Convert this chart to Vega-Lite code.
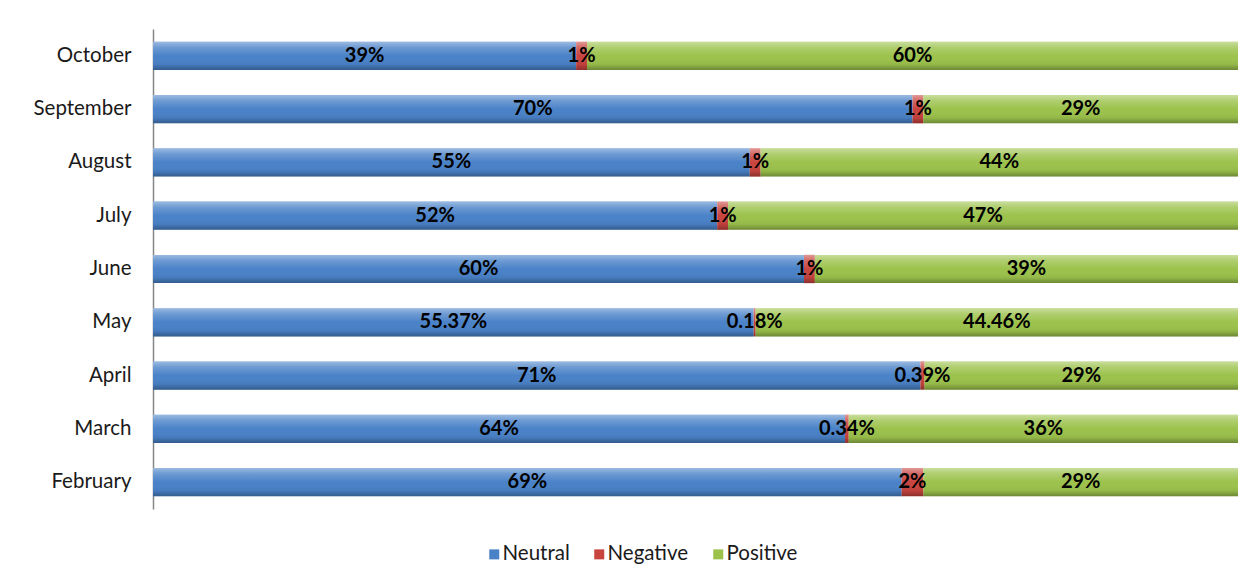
{
  "$schema": "https://vega.github.io/schema/vega-lite/v6.json",
  "autosize": "none",
  "width": 1085,
  "height": 480,
  "padding": {"left": 153, "top": 29, "right": 10, "bottom": 74},
  "background": "white",
  "data": {
    "values": [
      {"month": "February", "sentiment": "Neutral", "order": 1, "share": 0.69},
      {"month": "February", "sentiment": "Negative", "order": 2, "share": 0.02},
      {"month": "February", "sentiment": "Positive", "order": 3, "share": 0.29},
      {"month": "March", "sentiment": "Neutral", "order": 1, "share": 0.64},
      {"month": "March", "sentiment": "Negative", "order": 2, "share": 0.0034},
      {"month": "March", "sentiment": "Positive", "order": 3, "share": 0.36},
      {"month": "April", "sentiment": "Neutral", "order": 1, "share": 0.71},
      {"month": "April", "sentiment": "Negative", "order": 2, "share": 0.0039},
      {"month": "April", "sentiment": "Positive", "order": 3, "share": 0.29},
      {"month": "May", "sentiment": "Neutral", "order": 1, "share": 0.5537},
      {"month": "May", "sentiment": "Negative", "order": 2, "share": 0.0018},
      {"month": "May", "sentiment": "Positive", "order": 3, "share": 0.4446},
      {"month": "June", "sentiment": "Neutral", "order": 1, "share": 0.60},
      {"month": "June", "sentiment": "Negative", "order": 2, "share": 0.01},
      {"month": "June", "sentiment": "Positive", "order": 3, "share": 0.39},
      {"month": "July", "sentiment": "Neutral", "order": 1, "share": 0.52},
      {"month": "July", "sentiment": "Negative", "order": 2, "share": 0.01},
      {"month": "July", "sentiment": "Positive", "order": 3, "share": 0.47},
      {"month": "August", "sentiment": "Neutral", "order": 1, "share": 0.55},
      {"month": "August", "sentiment": "Negative", "order": 2, "share": 0.01},
      {"month": "August", "sentiment": "Positive", "order": 3, "share": 0.44},
      {"month": "September", "sentiment": "Neutral", "order": 1, "share": 0.70},
      {"month": "September", "sentiment": "Negative", "order": 2, "share": 0.01},
      {"month": "September", "sentiment": "Positive", "order": 3, "share": 0.29},
      {"month": "October", "sentiment": "Neutral", "order": 1, "share": 0.39},
      {"month": "October", "sentiment": "Negative", "order": 2, "share": 0.01},
      {"month": "October", "sentiment": "Positive", "order": 3, "share": 0.60}
    ]
  },
  "encoding": {
    "y": {
      "field": "month",
      "type": "nominal",
      "sort": ["October", "September", "August", "July", "June", "May", "April", "March", "February"],
      "scale": {"paddingInner": 0.47, "paddingOuter": 0.24},
      "axis": {
        "title": null,
        "ticks": false,
        "grid": false,
        "domainColor": "#868686",
        "domainWidth": 1.5,
        "labelFont": "Lato",
        "labelFontSize": 20.5,
        "labelColor": "#1a1a1a",
        "labelPadding": 22
      }
    },
    "x": {
      "field": "share",
      "type": "quantitative",
      "stack": "normalize",
      "scale": {"domain": [0, 1]},
      "axis": null
    },
    "order": {"field": "order", "type": "quantitative"}
  },
  "layer": [
    {
      "mark": {"type": "bar"},
      "encoding": {
        "color": {
          "field": "sentiment",
          "type": "nominal",
          "sort": ["Neutral", "Negative", "Positive"],
          "scale": {"domain": ["Neutral", "Negative", "Positive"], "range": ["#4a82c8", "#c8443f", "#9cc24c"]},
          "legend": {
            "title": null,
            "orient": "none",
            "direction": "horizontal",
            "legendX": 331,
            "legendY": 515,
            "symbolType": "square",
            "symbolSize": 100,
            "symbolStrokeWidth": 0,
            "labelFont": "Lato",
            "labelFontSize": 20.5,
            "labelColor": "#1a1a1a",
            "columnPadding": 19,
            "labelOffset": -2
          }
        }
      }
    },
    {
      "mark": {
        "type": "bar",
        "fill": {
          "gradient": "linear",
          "x1": 0, "y1": 0, "x2": 0, "y2": 1,
          "stops": [
            {"offset": 0, "color": "rgba(255,255,255,0.45)"},
            {"offset": 0.2, "color": "rgba(255,255,255,0.2)"},
            {"offset": 0.5, "color": "rgba(255,255,255,0)"},
            {"offset": 0.8, "color": "rgba(0,0,0,0.05)"},
            {"offset": 1, "color": "rgba(0,0,0,0.3)"}
          ]
        }
      },
      "encoding": {"detail": {"field": "sentiment", "type": "nominal"}}
    },
    {
      "mark": {"type": "text", "font": "Lato", "fontSize": 20, "fontWeight": "bold", "color": "black", "baseline": "middle", "align": "center"},
      "encoding": {
        "x": {"field": "share", "type": "quantitative", "stack": "normalize", "bandPosition": 0.5},
        "text": {"field": "share", "type": "quantitative", "format": ".4~%"}
      }
    }
  ],
  "config": {"view": {"stroke": null}}
}
